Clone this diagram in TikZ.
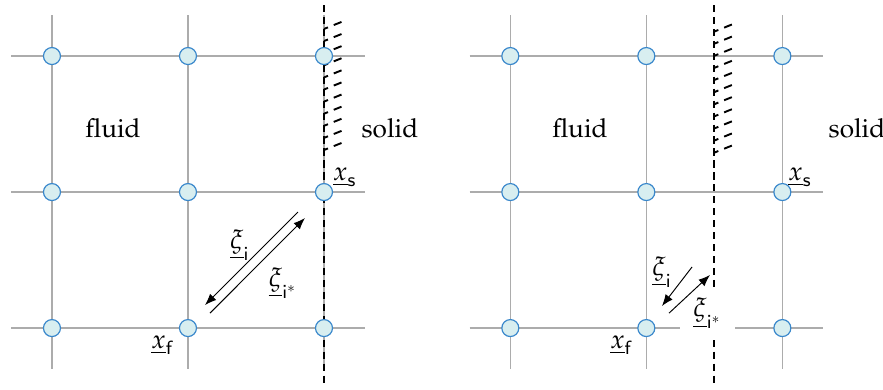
\documentclass[tikz,border=0pt,11pt]{standalone}
\usepackage[T1]{fontenc}
\usepackage{mathpazo}
\usetikzlibrary{arrows.meta}
\definecolor{pntblue}{HTML}{3A88CC}
\definecolor{pntfill}{HTML}{D8EEF0}

\begin{document}
\begin{tikzpicture}[x=2cm, y=2cm,
  gridline/.style={draw=gray!65, line width=0.5pt},
  wall/.style={line width=0.9pt, dash pattern=on 3pt off 2pt},
  hatch/.style={line width=0.8pt, dash pattern=on 1.8pt off 2.6pt on 3.5pt off 5pt},
  pnt/.style={circle, draw=pntblue, fill=pntfill, line width=0.5pt, minimum size=0.25cm, inner sep=0pt},
  lbl/.style={inner sep=1pt},
  arrow/.style={-{Latex[length=1.7mm, width=1.3mm]}, line width=0.4pt},
]
\useasboundingbox (-0.382,-0.449) rectangle (6.110,2.412);

% === GRID (both panels) ===
\foreach \ox in {0,3.37} {
  \foreach \r in {0,1,2}
    \draw[gridline] (\ox-0.3,\r) -- (\ox+2.3,\r);
  \foreach \c in {0,1,2}
    \draw[gridline] (\ox+\c,2.3) -- (\ox+\c,-0.3);
}

% === WALLS ===
\draw[wall] (2,2.375) -- (2,-0.42);
\draw[wall] (4.87,2.375) -- (4.87,-0.42);
\foreach \k in {0,...,10} {
  \draw[hatch] (2,2.199-\k*0.089) -- ++(0.147,0.059);
  \draw[hatch] (4.87,2.18-\k*0.089) -- ++(0.147,0.059);
}

% === LATTICE NODES ===
\foreach \i in {0,1,2}
  \foreach \j in {0,1,2} {
    \node[pnt] (l\i\j) at (\i,\j) {};
    \node[pnt] (r\i\j) at (3.37+\i,\j) {};
  }

% === LEFT PANEL: wall on the node ===
\node[lbl] (fluidL) at (0.449,1.471) {fluid};
\node[lbl] (solidL) at (2.485,1.471) {solid};
\node[lbl] (xsL) at (2.154,1.110) {$\underline{x}_{\mathsf{s}}$};
\node[lbl] (xfL) at (0.816,-0.125) {$\underline{x}_{\mathsf{f}}$};
\node[lbl] (xiL) at (1.382,0.610) {$\underline{\xi}_{\mathsf{i}}$};
\node[lbl] (xisL) at (1.699,0.331) {$\underline{\xi}_{\mathsf{i}^*}$};

\coordinate (aL1) at (1.809,0.853);
\coordinate (aL2) at (1.125,0.169);
\coordinate (bL1) at (1.162,0.110);
\coordinate (bL2) at (1.860,0.809);
\draw[arrow] (aL1) -- (aL2);
\draw[arrow] (bL1) -- (bL2);

% === RIGHT PANEL: wall between nodes ===
\node[lbl] (fluidR) at (3.882,1.471) {fluid};
\node[lbl] (solidR) at (5.919,1.471) {solid};
\node[lbl] (xsR) at (5.5,1.110) {$\underline{x}_{\mathsf{s}}$};
\node[lbl] (xfR) at (4.19,-0.125) {$\underline{x}_{\mathsf{f}}$};
\node[lbl] (xiR) at (4.485,0.412) {$\underline{\xi}_{\mathsf{i}}$};
\node[lbl, fill=white, minimum width=0.8cm, minimum height=0.78cm] (xisR) at (4.82,0.107) {$\underline{\xi}_{\mathsf{i}^*}$};

\coordinate (aR1) at (4.706,0.449);
\coordinate (aR2) at (4.485,0.162);
\coordinate (bR1) at (4.537,0.110);
\coordinate (bR2) at (4.838,0.390);
\draw[arrow] (aR1) -- (aR2);
\draw[arrow] (bR1) -- (bR2);
\end{tikzpicture}
\end{document}
